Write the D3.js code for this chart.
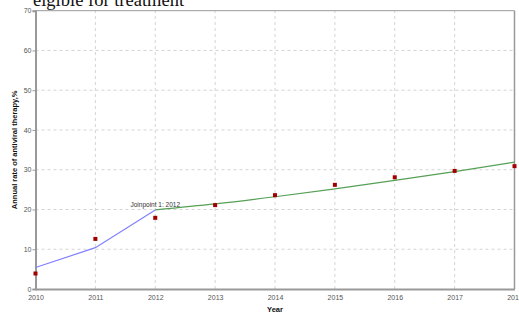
<!DOCTYPE html>
<html>
<head>
<meta charset="utf-8">
<script src="https://cdn.jsdelivr.net/npm/d3@7"></script>
<style>
  body { margin: 0; background: #fff; overflow: hidden; }
  .tick text { font-family: "Liberation Sans", Arial, sans-serif; font-size: 7px; fill: #555; }
</style>
</head>
<body>
<div id="chart"></div>
<script>
// observed annual rates
var years = [2010, 2011, 2012, 2013, 2014, 2015, 2016, 2017, 2018];
var observed = [3.9, 12.6, 17.9, 21.1, 23.6, 26.2, 28.1, 29.7, 30.9];

// fitted joinpoint segments
var seg1Years = [2010, 2011, 2012];
var seg1Values = [5.4, 10.4, 19.9];
var seg2Years = [2012, 2013, 2014, 2015, 2016, 2017, 2018];
var seg2Values = [19.9, 21.4, 23.2, 25.2, 27.3, 29.5, 31.9];

var yTicks = [0, 10, 20, 30, 40, 50, 60, 70];
var joinpointLabel = "Joinpoint 1:  2012";
var joinpointYear = 2012;

var width = 519, height = 318;
var margin = {top: 10.7, right: 4.5, bottom: 29, left: 35.5};

var svg = d3.select("#chart").append("svg")
    .attr("width", width)
    .attr("height", height);

var x = d3.scaleLinear()
    .domain([2010, 2018])
    .range([margin.left, width - margin.right]);

var y = d3.scaleLinear()
    .domain([0, 70])
    .range([height - margin.bottom, margin.top]);

// title (cut off at the top in the original)
svg.append("text")
    .attr("x", 33)
    .attr("y", 6)
    .attr("font-family", "Liberation Serif, Times New Roman, serif")
    .attr("font-size", 18.5)
    .attr("fill", "#111")
    .text("elgible for treatment");

// grid
svg.append("g").selectAll("line.h")
    .data(yTicks.slice(1, -1))
    .enter().append("line")
    .attr("x1", x(2010)).attr("x2", x(2018))
    .attr("y1", function(d) { return y(d); })
    .attr("y2", function(d) { return y(d); })
    .attr("stroke", "#d4d4d4")
    .attr("stroke-dasharray", "3,3");

svg.append("g").selectAll("line.v")
    .data(years.slice(1, -1))
    .enter().append("line")
    .attr("y1", y(0)).attr("y2", y(70))
    .attr("x1", function(d) { return x(d); })
    .attr("x2", function(d) { return x(d); })
    .attr("stroke", "#d4d4d4")
    .attr("stroke-dasharray", "3,3");

// frame top / right
svg.append("line")
    .attr("x1", x(2010)).attr("x2", x(2018))
    .attr("y1", y(70)).attr("y2", y(70))
    .attr("stroke", "#999").attr("stroke-width", 1);
svg.append("line")
    .attr("x1", x(2018)).attr("x2", x(2018))
    .attr("y1", y(70)).attr("y2", y(0))
    .attr("stroke", "#999").attr("stroke-width", 1.5);

// axes
var yAxis = d3.axisLeft(y).tickValues(yTicks).tickSize(3).tickPadding(1);
var xAxis = d3.axisBottom(x).tickValues(years).tickFormat(d3.format("d")).tickSize(0).tickPadding(6);

var gy = svg.append("g")
    .attr("transform", "translate(" + margin.left + ",0)")
    .call(yAxis);
var gx = svg.append("g")
    .attr("transform", "translate(0," + (height - margin.bottom) + ")")
    .call(xAxis);

[gx, gy].forEach(function(g) {
  g.select(".domain").attr("stroke", "#999").attr("stroke-width", 2);
  g.selectAll(".tick line").attr("stroke", "#999");
});

// axis titles
svg.append("text")
    .attr("x", x(2014))
    .attr("y", 312)
    .attr("text-anchor", "middle")
    .attr("font-family", "Liberation Sans, Arial, sans-serif")
    .attr("font-size", 7.5)
    .attr("font-weight", "bold")
    .attr("fill", "#111")
    .text("Year");

svg.append("text")
    .attr("transform", "translate(17," + y(35) + ") rotate(-90)")
    .attr("text-anchor", "middle")
    .attr("font-family", "Liberation Sans, Arial, sans-serif")
    .attr("font-size", 7.5)
    .attr("font-weight", "bold")
    .attr("fill", "#111")
    .text("Annual rate of antiviral therapy,%");

// fitted lines
var line1 = d3.line()
    .x(function(d) { return x(d[0]); })
    .y(function(d) { return y(d[1]); });

var line2 = d3.line()
    .x(function(d) { return x(d[0]); })
    .y(function(d) { return y(d[1]); })
    .curve(d3.curveMonotoneX);

svg.append("path")
    .datum(d3.zip(seg1Years, seg1Values))
    .attr("d", line1)
    .attr("fill", "none")
    .attr("stroke", "#8080ff")
    .attr("stroke-width", 1.2);

svg.append("path")
    .datum(d3.zip(seg2Years, seg2Values))
    .attr("d", line2)
    .attr("fill", "none")
    .attr("stroke", "#55a055")
    .attr("stroke-width", 1.2);

// observed points
svg.append("g").selectAll("rect")
    .data(d3.zip(years, observed))
    .enter().append("rect")
    .attr("x", function(d) { return x(d[0]) - 2; })
    .attr("y", function(d) { return y(d[1]) - 2; })
    .attr("width", 4)
    .attr("height", 4)
    .attr("fill", "#a00000");

// joinpoint label
svg.append("text")
    .attr("x", x(joinpointYear))
    .attr("y", y(seg1Values[2]) - 3)
    .attr("text-anchor", "middle")
    .attr("font-family", "Liberation Sans, Arial, sans-serif")
    .attr("font-size", 6.5)
    .attr("fill", "#333")
    .text(joinpointLabel);
</script>
</body>
</html>
